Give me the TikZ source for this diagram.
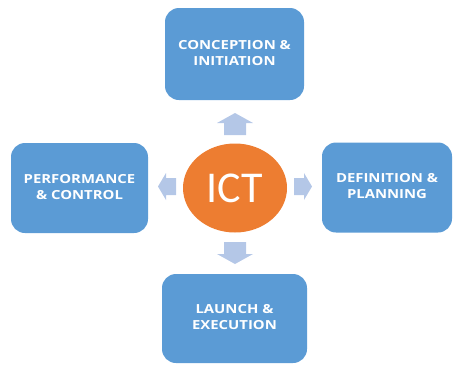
\documentclass[tikz,border=0pt]{standalone}
\usepackage{fontspec}
\usepackage{graphicx}
\setmainfont{Carlito}
\newfontfamily\phasefont{Open Sans}
\usetikzlibrary{shapes.geometric,positioning}

\definecolor{phaseblue}{HTML}{5B9BD5}
\definecolor{ictorange}{HTML}{ED7D31}
\definecolor{flowblue}{HTML}{B4C7E7}

% wide label of a phase box
\newcommand{\phaselabel}[1]{\scalebox{1.19}[1]{\begin{tabular}{@{}c@{}}#1\end{tabular}}}

\begin{document}
\begin{tikzpicture}[x=1pt,y=-1pt,
    phase/.style={fill=phaseblue, rounded corners=14pt, text=white, align=center,
      font=\phasefont\bfseries\fontsize{12.5}{16}\selectfont, inner sep=0pt}]
    \useasboundingbox (0,0) rectangle (453,365);
    \clip (0,0) rectangle (453,365);

    % Centre of the diagram
    \coordinate (C) at (235,188);
    \node[ellipse, fill=ictorange, minimum width=104pt, minimum height=89pt, inner sep=0pt,
      text=white, font=\fontsize{44}{48}\selectfont] (ict) at (C) {ICT};

    % Draw the four phases
    \node[phase, minimum width=139pt, minimum height=92pt] (conc) at (234.5,54)
      {\phaselabel{CONCEPTION \&\\INITIATION}};
    \node[phase, minimum width=130pt, minimum height=90pt] (defn) at (387,187.5)
      {\phaselabel{DEFINITION \&\\PLANNING}};
    \node[phase, minimum width=145pt, minimum height=89pt] (laun) at (234.5,318.5)
      {\phaselabel{LAUNCH \&\\EXECUTION}};
    \node[phase, minimum width=137pt, minimum height=90pt] (perf) at (79.5,188)
      {\phaselabel{PERFORMANCE\\\& CONTROL}};

    % Draw the block arrows: tail, angle, length, head half width, shaft half width, head length
    \foreach \name/\tx/\ty/\ang/\len/\w/\s/\h in {up/235/135/90/22/18/11/10,
        down/235/242/-90/22/18/11/10,
        left/176/186.5/180/18/13.5/8.5/8,
        right/294/186.5/0/18/13.5/8.5/8}
    {
      \coordinate (\name) at (\tx,\ty);
      \fill[flowblue, shift={(\name)}, rotate=\ang]
        (0,-\s) -- (\len-\h,-\s) -- (\len-\h,-\w) -- (\len,0)
        -- (\len-\h,\w) -- (\len-\h,\s) -- (0,\s) -- cycle;
    }
\end{tikzpicture}
\end{document}
